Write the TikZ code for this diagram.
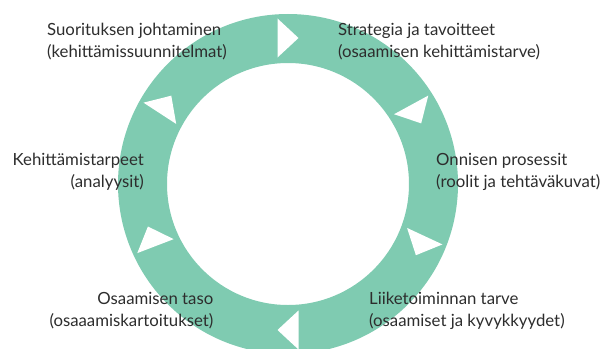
\documentclass[tikz,border=0pt]{standalone}
\usepackage{fontspec}
\setmainfont{Lato}
\usepackage{tikz}

\definecolor{ringgreen}{RGB}{127,203,177}
\definecolor{labelgray}{RGB}{45,45,45}

\begin{document}
\begin{tikzpicture}[scale=0.7,
	lbl/.style={font=\fontsize{16.7}{21}\selectfont,text=labelgray,inner sep=0pt}]
				\useasboundingbox (-14.4,-8.2) rectangle (15.8,9.2);
				% ring
				\fill[ringgreen,even odd rule] (0,0) circle (8.5) (0,0) circle (6.05);
				% arrow heads, clockwise
				\foreach \a in {90,28.6,-25,-90,201,147}
				\fill[white,shift={(\a:7.3)},rotate=\a-90]
				(-0.525,-0.975) -- (0.525,0) -- (-0.525,0.975) -- cycle;
				% labels (base = second line)
				\node[lbl,anchor=base west,align=left] (suoritus) at (-12.05,6.35) {Suorituksen johtaminen\\(kehittämissuunnitelmat)};
				\node[lbl,anchor=base west,align=left] (strategia) at (2.5,6.35) {Strategia ja tavoitteet\\(osaamisen kehittämistarve)};
				\node[lbl,anchor=base west,align=left] (prosessit) at (7.4,-0.15) {Onnisen prosessit\\(roolit ja tehtäväkuvat)};
				\node[lbl,anchor=base east,align=right] (tarpeet) at (-7.2,-0.15) {Kehittämistarpeet\\(analyysit)};
				\node[lbl,anchor=base east,align=right] (taso) at (-3.725,-7.1) {Osaamisen taso\\(osaaamiskartoitukset)};
				\node[lbl,anchor=base west,align=left] (tarve) at (4.05,-7.1) {Liiketoiminnan tarve\\(osaamiset ja kyvykkyydet)};
			\end{tikzpicture}
\end{document}
